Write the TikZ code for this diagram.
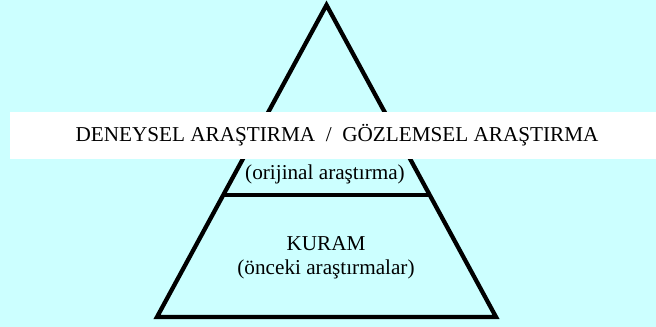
\documentclass[tikz,border=0pt]{standalone}
\usepackage{fontspec}
\setmainfont{Liberation Serif}
\usetikzlibrary{positioning,calc}
\definecolor{bgcyan}{HTML}{CCFFFF}
\colorlet{pyrline}{black}
\colorlet{bandfill}{white}

\begin{document}
\begin{tikzpicture}[
  x=0.75pt, y=-0.75pt,
  every node/.style={font=\fontsize{15.9}{18}\selectfont, align=center, inner sep=0pt},
  pyr/.style ={draw=pyrline, line width=3.2pt, line join=miter, miter limit=25},
  band/.style={fill=bandfill, minimum width=484.5pt, minimum height=35.25pt},
  lbl/.style ={anchor=base, text=black},
]

%% ── Canvas ───────────────────────────────────────────────
\fill[bgcyan] (0,0) rectangle (656,327);
\useasboundingbox (0,0) rectangle (656,327);

%% ── Pyramid ──────────────────────────────────────────────
\coordinate (apex) at (326.5,5);
\coordinate (bl)   at (157,317);
\coordinate (br)   at (496,317);

\draw[pyr] (apex) -- (bl) -- (br) -- cycle;
\draw[pyr] ($(apex)!0.608!(bl)$) -- ($(apex)!0.608!(br)$);

%% ── White band across the top level ──────────────────────
\node[band] (bandbox) at (333,135.5) {};
\node[lbl]  (research) at (337,142)
  {DENEYSEL ARAŞTIRMA\ \ /\ \ GÖZLEMSEL ARAŞTIRMA};

%% ── Level labels ─────────────────────────────────────────
\node[lbl] (original) at (325,180) {(orijinal araştırma)};
\node[lbl] (theory)   at (326,251) {KURAM};
\node[lbl] (previous) at (326,275) {(önceki araştırmalar)};

\end{tikzpicture}
\end{document}
